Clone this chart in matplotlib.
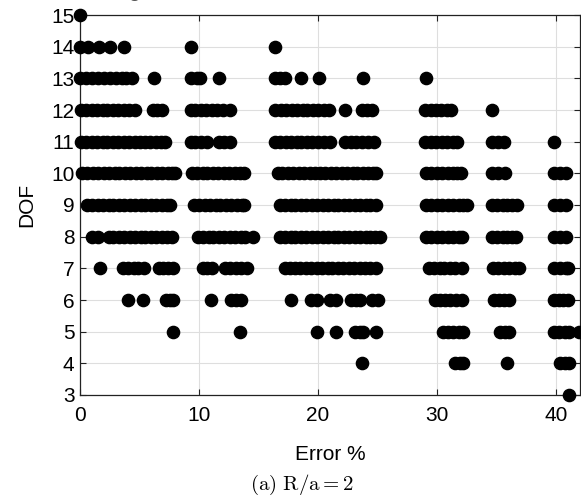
import matplotlib
matplotlib.use('Agg')
import matplotlib.pyplot as plt

plt.rcParams['font.family'] = ['Liberation Sans', 'DejaVu Sans']
plt.rcParams['mathtext.fontset'] = 'cm'

# Error % values of every run, grouped by DOF
dof15 = [0.0]
dof14 = [0.0, 0.7, 1.6, 2.5, 3.7, 9.3, 16.4]
dof13 = [0.0, 0.5, 1.0, 1.5, 2.0, 2.5, 3.0, 3.5, 3.9, 4.4, 6.2, 9.3, 9.8, 10.1,
         11.65, 16.4, 16.8, 17.2, 18.6, 20.1, 23.75, 29.1]
dof12 = [0.1, 0.5, 1.0, 1.4, 1.9, 2.3, 2.8, 3.2, 3.7, 4.1, 4.6, 6.1, 6.5, 6.9,
         9.3, 9.7, 10.2, 10.6, 11.1, 11.5, 12.0, 12.6,
         16.4, 16.9, 17.3, 17.8, 18.2, 18.7, 19.1, 19.6, 20.0, 20.5, 20.9,
         22.3, 23.7, 24.1, 24.5, 29.0, 29.5, 29.9, 30.3, 30.8, 31.2, 34.65]
dof11 = [0.1, 0.5, 1.0, 1.4, 1.9, 2.3, 2.8, 3.2, 3.7, 4.1, 4.6, 5.0, 5.5, 5.9,
         6.4, 6.8, 7.1, 9.3, 9.7, 10.2, 10.7, 11.7, 12.1, 12.6,
         16.4, 16.8, 17.3, 17.7, 18.2, 18.6, 19.1, 19.5, 20.0, 20.5, 21.0,
         22.3, 22.8, 23.2, 23.7, 24.2, 24.7,
         29.0, 29.5, 29.9, 30.4, 30.8, 31.3, 31.7, 34.6, 35.1, 35.6, 39.8]
dof10 = [0.2, 0.6, 1.1, 1.5, 2.0, 2.4, 2.9, 3.3, 3.8, 4.2, 4.7, 5.1, 5.6, 6.0,
         6.5, 6.9, 7.4, 7.7, 8.0,
         9.4, 9.8, 10.3, 10.7, 11.2, 11.6, 12.1, 12.5, 13.0, 13.4, 13.8,
         16.6, 17.0, 17.5, 17.9, 18.4, 18.8, 19.3, 19.7, 20.2, 20.6, 21.1,
         21.5, 22.0, 22.4, 22.9, 23.3, 23.8, 24.2, 24.6, 24.9,
         29.1, 29.5, 30.0, 30.4, 30.9, 31.3, 31.7, 32.0,
         34.6, 35.1, 35.7, 39.8, 40.3, 40.8]
dof9 = [0.6, 1.0, 1.5, 1.9, 2.4, 2.8, 3.3, 3.7, 4.2, 4.6, 5.1, 5.5, 6.0, 6.4,
        6.9, 7.3, 7.6,
        9.6, 10.0, 10.5, 10.9, 11.4, 11.8, 12.3, 12.7, 13.2, 13.6, 13.8,
        16.8, 17.2, 17.7, 18.1, 18.6, 19.0, 19.5, 19.9, 20.4, 20.8, 21.3,
        21.7, 22.2, 22.6, 23.1, 23.5, 24.0, 24.4, 24.9,
        29.1, 29.5, 30.0, 30.4, 30.9, 31.3, 31.8, 32.2, 32.5,
        34.6, 35.0, 35.5, 35.9, 36.3, 36.7, 39.8, 40.3, 40.8]
dof8 = [1.0, 1.5, 2.4, 2.8, 3.3, 3.7, 4.2, 4.6, 5.1, 5.5, 6.0, 6.4, 6.9, 7.3,
        7.7, 9.9, 10.3, 10.8, 11.2, 11.7, 12.1, 12.6, 13.0, 13.5, 13.9, 14.5,
        16.8, 17.2, 17.7, 18.1, 18.6, 19.0, 19.5, 19.9, 20.4, 20.8, 21.3,
        21.7, 22.2, 22.6, 23.1, 23.5, 24.0, 24.4, 24.8, 25.2,
        29.1, 29.5, 30.0, 30.4, 30.9, 31.3, 31.8, 32.1,
        34.6, 35.0, 35.5, 35.9, 36.3, 36.6, 39.8, 40.3, 40.8]
dof7 = [1.7, 3.6, 4.0, 4.5, 4.9, 5.4, 6.6, 7.0, 7.4, 7.8,
        10.3, 10.7, 11.1, 12.2, 12.6, 13.1, 13.5, 14.0,
        17.2, 17.6, 18.1, 18.5, 19.0, 19.4, 19.9, 20.3, 20.8, 21.2, 21.7,
        22.1, 22.6, 23.0, 23.5, 23.9, 24.4, 24.9,
        29.3, 29.7, 30.2, 30.6, 31.1, 31.5, 32.1,
        34.7, 35.1, 35.6, 36.0, 36.5, 36.9, 39.8, 40.3, 40.8, 41.0]
dof6 = [4.05, 5.3, 7.25, 7.55, 7.8, 11.0, 12.7, 13.1, 13.5, 17.7,
        19.4, 19.9, 21.0, 21.5, 22.8, 23.2, 23.5, 24.5, 25.0,
        29.8, 30.2, 30.7, 31.1, 31.6, 32.1, 34.8, 35.2, 35.6, 36.0,
        39.8, 40.2, 40.6, 41.0]
dof5 = [7.8, 13.4, 19.9, 21.5, 23.1, 23.5, 23.8, 24.9,
        30.5, 30.9, 31.3, 31.8, 32.2, 35.3, 35.7, 36.0,
        39.8, 40.2, 40.7, 41.1, 41.9]
dof4 = [23.7, 31.5, 31.9, 32.2, 35.9, 40.3, 40.7, 41.1]
dof3 = [41.05]

rows = {15: dof15, 14: dof14, 13: dof13, 12: dof12, 11: dof11, 10: dof10,
        9: dof9, 8: dof8, 7: dof7, 6: dof6, 5: dof5, 4: dof4, 3: dof3}

fig = plt.figure(figsize=(5.81, 5.0), dpi=100)
ax = fig.add_axes([80 / 581, 105 / 500, 500 / 581, 380 / 500])

for dof, errs in rows.items():
    ax.plot(errs, [dof] * len(errs), 'o', color='black', ms=8.8,
            clip_on=False, zorder=3)

ax.set_xlim(0, 42)
ax.set_ylim(3, 15)
ax.set_xticks([0, 10, 20, 30, 40])
ax.set_yticks(range(3, 16))
ax.grid(True, color='#dedede', lw=0.8)
ax.set_axisbelow(True)
ax.tick_params(direction='in', length=4, top=True, right=True,
               labelsize=15, pad=4, color='#222222')
ax.tick_params(axis='x', pad=8)
for sp in ax.spines.values():
    sp.set_linewidth(0.9)
    sp.set_color('#222222')

ax.set_xlabel('Error %', fontsize=15, labelpad=14)
ax.set_ylabel('DOF', fontsize=15, labelpad=11)

# title text lies above the page, only its lowest edge shows
fig.text(-0.04, 1.007, 'Pareto front, weights = 0.5, 30, 0, 0, 0',
         fontsize=15, color='#555555', ha='left', va='baseline')
fig.text(0.52, 0.02, r'$\mathrm{(a)\ R/a = 2}$', fontsize=15,
         ha='center', va='baseline')

plt.savefig('out.png', dpi=100)
